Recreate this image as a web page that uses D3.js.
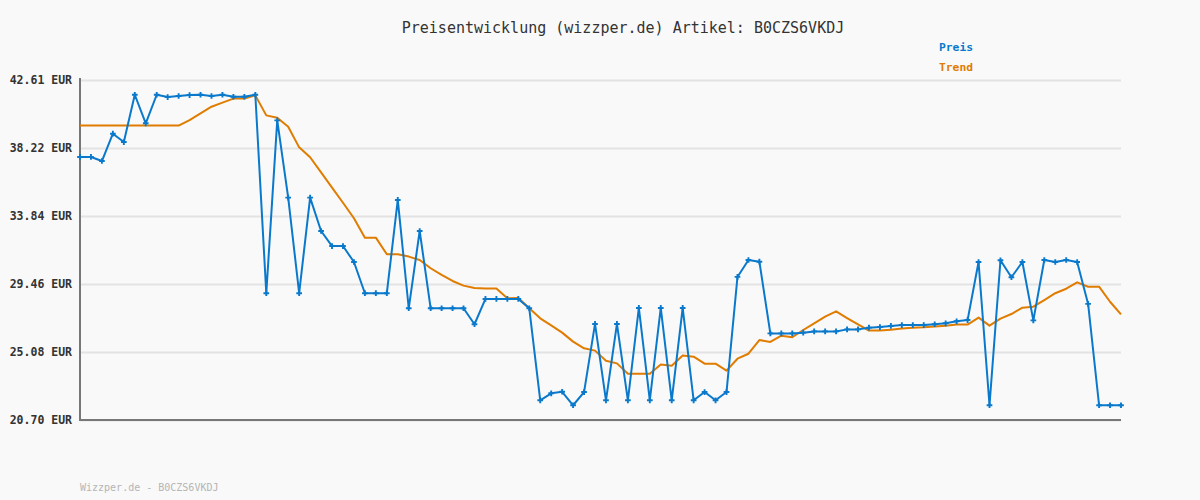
<!DOCTYPE html>
<html>
<head>
<meta charset="utf-8">
<script src="https://cdn.jsdelivr.net/npm/d3@7"></script>
<style>
  html, body { margin: 0; padding: 0; background: #f9f9f9; }
  svg { display: block; }
</style>
</head>
<body>
<svg id="chart" width="1200" height="500"></svg>
<script>
const titleText = "Preisentwicklung (wizzper.de) Artikel: B0CZS6VKDJ";
const footerText = "Wizzper.de - B0CZS6VKDJ";
const seriesNames = ["Preis", "Trend"];
const yTicks = [20.70, 25.08, 29.46, 33.84, 38.22, 42.61];
const yTickLabels = ["20.70 EUR", "25.08 EUR", "29.46 EUR", "33.84 EUR", "38.22 EUR", "42.61 EUR"];

const preis = [
  37.65, 37.65, 37.39, 39.15, 38.61, 41.66, 39.82, 41.66, 41.51, 41.58,
  41.64, 41.66, 41.58, 41.66, 41.53, 41.53, 41.66, 28.87, 40.01, 35.03,
  28.87, 35.03, 32.88, 31.91, 31.91, 30.88, 28.87, 28.87, 28.87, 34.88,
  27.90, 32.88, 27.90, 27.90, 27.90, 27.90, 26.87, 28.50, 28.50, 28.50,
  28.50, 27.90, 21.97, 22.42, 22.52, 21.65, 22.50, 26.89, 21.97, 26.89,
  21.97, 27.92, 21.97, 27.92, 21.97, 27.92, 21.97, 22.50, 21.97, 22.50,
  29.92, 31.01, 30.90, 26.28, 26.28, 26.28, 26.33, 26.41, 26.41, 26.41,
  26.54, 26.54, 26.65, 26.69, 26.76, 26.82, 26.82, 26.82, 26.87, 26.93,
  27.06, 27.14, 30.88, 21.65, 30.99, 29.90, 30.88, 27.12, 31.01, 30.88,
  31.01, 30.88, 28.18, 21.65, 21.65, 21.65
];

const trend = [
  39.67, 39.67, 39.67, 39.67, 39.67, 39.67, 39.67, 39.67, 39.67, 39.67,
  40.03, 40.46, 40.89, 41.15, 41.41, 41.41, 41.62, 40.33, 40.18, 39.60,
  38.27, 37.63, 36.66, 35.67, 34.70, 33.70, 32.45, 32.45, 31.38, 31.38,
  31.23, 31.01, 30.48, 30.05, 29.66, 29.36, 29.21, 29.17, 29.17, 28.54,
  28.56, 27.90, 27.25, 26.80, 26.33, 25.75, 25.32, 25.17, 24.52, 24.35,
  23.68, 23.68, 23.68, 24.27, 24.20, 24.85, 24.78, 24.33, 24.33, 23.88,
  24.65, 24.97, 25.85, 25.73, 26.13, 26.03, 26.50, 26.93, 27.36, 27.70,
  27.27, 26.86, 26.46, 26.46, 26.52, 26.59, 26.65, 26.67, 26.72, 26.78,
  26.85, 26.85, 27.30, 26.78, 27.23, 27.53, 27.94, 28.00, 28.43, 28.87,
  29.16, 29.57, 29.29, 29.29, 28.32, 27.51
];

const colors = { preis: "#0a79cc", trend: "#e07c00" };

const svg = d3.select("#chart");
const mLeft = 80, mRight = 1121, mTop = 80, mBottom = 420;

const x = d3.scaleLinear().domain([0, preis.length - 1]).range([mLeft, mRight]);
const y = d3.scaleLinear().domain([yTicks[0], yTicks[yTicks.length - 1]]).range([mBottom, mTop]);

// gridlines
const grid = svg.append("g")
  .attr("transform", `translate(${mLeft},0)`)
  .call(d3.axisLeft(y).tickValues(yTicks).tickSize(-(mRight - mLeft)).tickFormat(""));
grid.select(".domain").remove();
grid.selectAll("line").attr("stroke", "#e3e3e3").attr("stroke-width", 2);

// y axis labels
const yAxis = svg.append("g")
  .attr("transform", `translate(${mLeft},0)`)
  .call(d3.axisLeft(y).tickValues(yTicks).tickSize(0).tickPadding(8)
    .tickFormat((d, i) => yTickLabels[i]));
yAxis.select(".domain").remove();
yAxis.selectAll("text")
  .attr("font-family", "DejaVu Sans Mono, monospace")
  .attr("font-size", 11.5)
  .attr("font-weight", "bold")
  .attr("fill", "#333");

// axis lines
svg.append("line").attr("x1", mLeft).attr("x2", mLeft).attr("y1", mTop - 2).attr("y2", mBottom + 1)
  .attr("stroke", "#777").attr("stroke-width", 2);
svg.append("line").attr("x1", mLeft - 1).attr("x2", mRight).attr("y1", mBottom).attr("y2", mBottom)
  .attr("stroke", "#777").attr("stroke-width", 2);

const line = d3.line().x((d, i) => x(i)).y(d => y(d));

svg.append("path").datum(trend)
  .attr("d", line).attr("fill", "none")
  .attr("stroke", colors.trend).attr("stroke-width", 2)
  .attr("stroke-linejoin", "round");

svg.append("path").datum(preis)
  .attr("d", line).attr("fill", "none")
  .attr("stroke", colors.preis).attr("stroke-width", 2)
  .attr("stroke-linejoin", "round");

// markers (small plus)
const sym = d3.symbol().type(d3.symbolCross).size(18);
svg.append("g").selectAll("path").data(preis).join("path")
  .attr("d", sym)
  .attr("transform", (d, i) => `translate(${x(i)},${y(d)})`)
  .attr("fill", colors.preis);

// title
svg.append("text").attr("x", 623).attr("y", 33)
  .attr("text-anchor", "middle")
  .attr("font-family", "DejaVu Sans Mono, monospace")
  .attr("font-size", 15)
  .attr("fill", "#333")
  .text(titleText);

// legend
svg.append("text").attr("x", 939).attr("y", 51)
  .attr("font-family", "DejaVu Sans Mono, monospace")
  .attr("font-size", 11.3).attr("font-weight", "bold")
  .attr("fill", colors.preis).text(seriesNames[0]);
svg.append("text").attr("x", 939).attr("y", 71)
  .attr("font-family", "DejaVu Sans Mono, monospace")
  .attr("font-size", 11.3).attr("font-weight", "bold")
  .attr("fill", colors.trend).text(seriesNames[1]);

// footer
svg.append("text").attr("x", 80).attr("y", 491)
  .attr("font-family", "DejaVu Sans Mono, monospace")
  .attr("font-size", 10)
  .attr("fill", "#b5b5b5")
  .text(footerText);
</script>
</body>
</html>
